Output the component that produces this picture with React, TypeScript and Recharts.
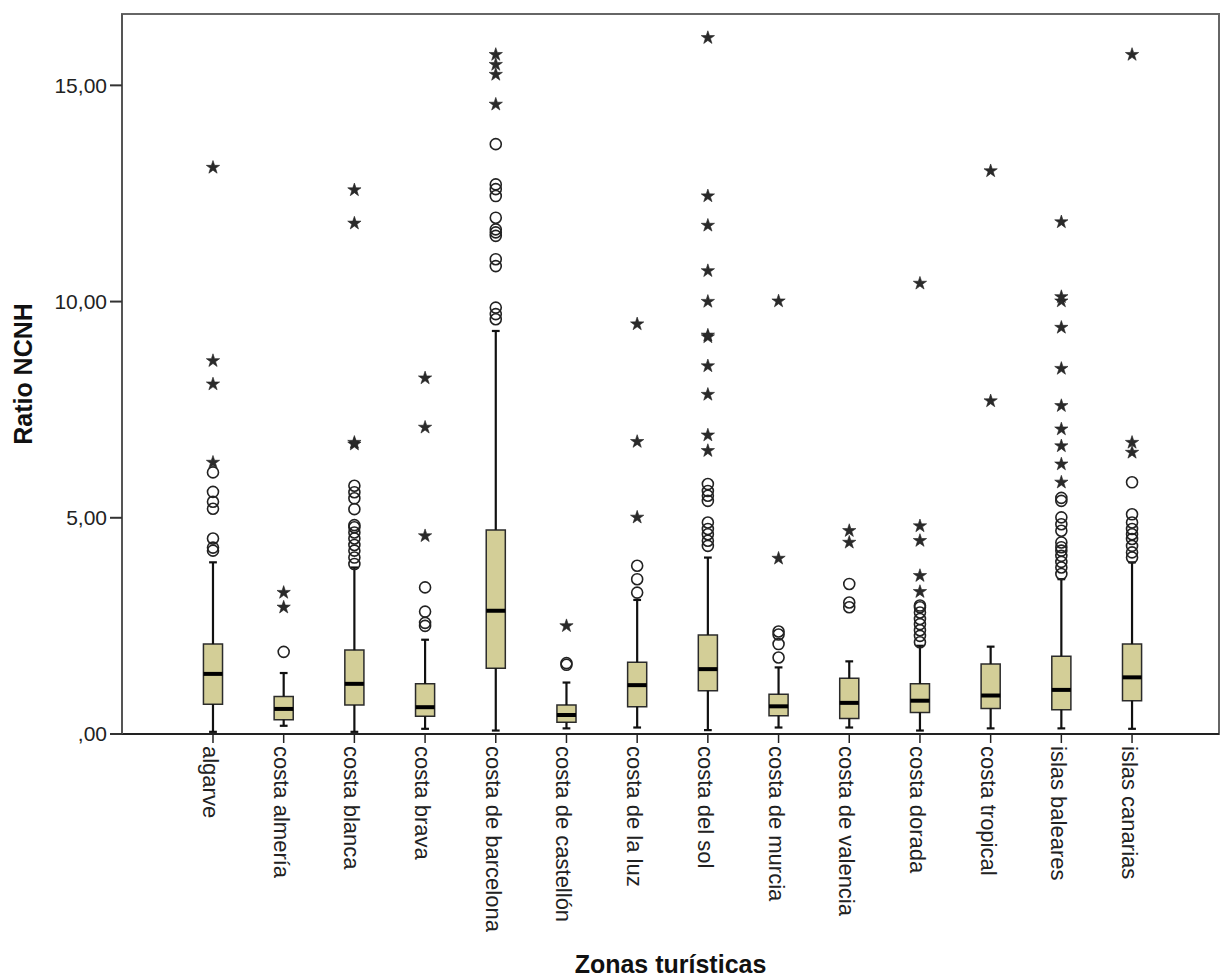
import React from 'react'
import {
  ScatterChart,
  Scatter,
  XAxis,
  YAxis,
  ReferenceArea,
  ReferenceLine,
  Label,
} from 'recharts'

const zones = [
  'algarve', 'costa almería', 'costa blanca', 'costa brava', 'costa de barcelona',
  'costa de castellón', 'costa de la luz', 'costa del sol', 'costa de murcia',
  'costa de valencia', 'costa dorada', 'costa tropical', 'islas baleares', 'islas canarias',
]

const whiskerLow = [0.05, 0.19, 0.05, 0.12, 0.08, 0.13, 0.15, 0.09, 0.15, 0.15, 0.08, 0.13, 0.13, 0.12]
const q1 = [0.69, 0.33, 0.67, 0.41, 1.52, 0.27, 0.63, 1.0, 0.42, 0.36, 0.5, 0.59, 0.56, 0.77]
const median = [1.39, 0.58, 1.16, 0.62, 2.85, 0.44, 1.13, 1.5, 0.64, 0.72, 0.77, 0.89, 1.02, 1.31]
const q3 = [2.08, 0.87, 1.94, 1.16, 4.72, 0.67, 1.66, 2.29, 0.92, 1.29, 1.16, 1.62, 1.8, 2.08]
const whiskerHigh = [3.97, 1.41, 3.85, 2.18, 9.32, 1.19, 3.1, 4.08, 1.54, 1.68, 2.04, 2.02, 3.58, 3.97]

const circleOutliers = [
  [4.24, 4.31, 4.52, 5.21, 5.37, 5.6, 6.05],
  [1.9],
  [3.93, 4.08, 4.24, 4.37, 4.52, 4.66, 4.78, 4.83, 5.2, 5.45, 5.59, 5.74],
  [2.5, 2.57, 2.83, 3.39],
  [9.59, 9.71, 9.86, 10.82, 10.98, 11.52, 11.6, 11.67, 11.94, 12.44, 12.6, 12.71, 13.64],
  [1.6, 1.64],
  [3.27, 3.58, 3.89],
  [4.35, 4.47, 4.62, 4.74, 4.89, 5.39, 5.51, 5.62, 5.78],
  [1.77, 2.08, 2.3, 2.37],
  [2.93, 3.04, 3.47],
  [2.12, 2.27, 2.4, 2.54, 2.66, 2.81, 2.93, 2.97],
  [],
  [3.7, 3.85, 3.98, 4.12, 4.24, 4.32, 4.43, 4.7, 4.85, 5.01, 5.39, 5.46],
  [4.08, 4.2, 4.35, 4.51, 4.62, 4.74, 4.89, 5.08, 5.82],
]

const starOutliers = [
  [6.28, 8.09, 8.63, 13.1],
  [2.93, 3.27],
  [6.7, 6.74, 11.81, 12.58],
  [4.58, 7.09, 8.23],
  [14.56, 15.25, 15.48, 15.71],
  [2.5],
  [5.01, 6.76, 9.48],
  [6.55, 6.91, 7.85, 8.51, 9.18, 9.22, 10.0, 10.71, 11.76, 12.44, 16.1],
  [4.06, 10.01],
  [4.43, 4.7],
  [3.29, 3.66, 4.47, 4.81, 10.42],
  [7.7, 13.02],
  [5.82, 6.24, 6.66, 7.05, 7.59, 8.45, 9.4, 10.01, 10.11, 11.84],
  [6.51, 6.74, 15.71],
]

const yTicks = [0, 5, 10, 15]

const circleData = circleOutliers.flatMap((vals, i) => vals.map((v) => ({ x: i, y: v })))
const starData = starOutliers.flatMap((vals, i) => vals.map((v) => ({ x: i, y: v })))

const X_DOMAIN: [number, number] = [-1.287, 14.23]
const Y_DOMAIN: [number, number] = [0, 16.65]
const BOX_HALF = 0.135
const CAP_HALF = 0.055
const FONT = "'Liberation Sans', Arial, sans-serif"

const fmtY = (v: number) => (v === 0 ? ',00' : v.toFixed(2).replace('.', ','))

function ZoneTick({ x, y, payload }: any) {
  const name = zones[payload.value] ?? ''
  return (
    <g transform={`translate(${x},${y})`}>
      <line x1={0} y1={0} x2={0} y2={9} stroke="#222" strokeWidth={1.5} />
      <text transform="rotate(90)" x={12} y={10} fontSize={22} fill="#222" fontFamily={FONT}>
        {name}
      </text>
    </g>
  )
}

function CircleMark({ cx, cy }: any) {
  return <circle cx={cx} cy={cy} r={5.5} fill="none" stroke="#222" strokeWidth={1.6} />
}

function StarMark({ cx, cy }: any) {
  const pts: string[] = []
  for (let k = 0; k < 10; k++) {
    const r = k % 2 === 0 ? 7 : 2.7
    const a = -Math.PI / 2 + (k * Math.PI) / 5
    pts.push(`${cx + r * Math.cos(a)},${cy + r * Math.sin(a)}`)
  }
  return <polygon points={pts.join(' ')} fill="#2a2a2a" stroke="#222" strokeWidth={0.6} />
}

export default function App() {
  return (
    <div style={{ position: 'absolute', left: 0, top: 0, background: '#fff' }}>
      <ScatterChart width={1222} height={977} margin={{ top: 14, right: 3, bottom: 0, left: 0 }}>
        <XAxis
          type="number"
          dataKey="x"
          domain={X_DOMAIN}
          allowDataOverflow
          ticks={zones.map((_, i) => i)}
          interval={0}
          tick={<ZoneTick />}
          tickLine={false}
          tickSize={0}
          tickMargin={0}
          height={243}
          axisLine={{ stroke: '#222', strokeWidth: 2 }}
        >
          <Label
            value="Zonas turísticas"
            position="insideBottom"
            offset={4}
            style={{ fontSize: 25, fontWeight: 'bold', fill: '#111', fontFamily: FONT }}
          />
        </XAxis>
        <YAxis
          type="number"
          dataKey="y"
          domain={Y_DOMAIN}
          allowDataOverflow
          ticks={yTicks}
          tickFormatter={fmtY}
          width={122}
          tickSize={12}
          tickMargin={3}
          tick={{ fontSize: 21, fill: '#222', fontFamily: FONT }}
          tickLine={{ stroke: '#333', strokeWidth: 2 }}
          axisLine={{ stroke: '#555', strokeWidth: 2 }}
        >
          <Label
            value="Ratio NCNH"
            angle={-90}
            position="insideLeft"
            offset={23}
            style={{ fontSize: 25, fontWeight: 'bold', fill: '#111', fontFamily: FONT, textAnchor: 'middle' }}
          />
        </YAxis>

        <ReferenceArea
          x1={X_DOMAIN[0]}
          x2={X_DOMAIN[1]}
          y1={Y_DOMAIN[0]}
          y2={Y_DOMAIN[1]}
          fill="none"
          stroke="#666"
          strokeWidth={2}
        />

        {zones.map((z, i) => (
          <ReferenceLine
            key={`wl-${z}`}
            segment={[{ x: i, y: whiskerLow[i] }, { x: i, y: q1[i] }]}
            stroke="#111"
            strokeWidth={2.2}
          />
        ))}
        {zones.map((z, i) => (
          <ReferenceLine
            key={`wh-${z}`}
            segment={[{ x: i, y: q3[i] }, { x: i, y: whiskerHigh[i] }]}
            stroke="#111"
            strokeWidth={2.2}
          />
        ))}
        {zones.map((z, i) => (
          <ReferenceLine
            key={`cl-${z}`}
            segment={[{ x: i - CAP_HALF, y: whiskerLow[i] }, { x: i + CAP_HALF, y: whiskerLow[i] }]}
            stroke="#111"
            strokeWidth={2.2}
          />
        ))}
        {zones.map((z, i) => (
          <ReferenceLine
            key={`ch-${z}`}
            segment={[{ x: i - CAP_HALF, y: whiskerHigh[i] }, { x: i + CAP_HALF, y: whiskerHigh[i] }]}
            stroke="#111"
            strokeWidth={2.2}
          />
        ))}
        {zones.map((z, i) => (
          <ReferenceArea
            key={`box-${z}`}
            x1={i - BOX_HALF}
            x2={i + BOX_HALF}
            y1={q1[i]}
            y2={q3[i]}
            fill="#D3CE97"
            fillOpacity={1}
            stroke="#2b2b2b"
            strokeWidth={1.5}
          />
        ))}
        {zones.map((z, i) => (
          <ReferenceLine
            key={`med-${z}`}
            segment={[{ x: i - BOX_HALF, y: median[i] }, { x: i + BOX_HALF, y: median[i] }]}
            stroke="#000"
            strokeWidth={4}
          />
        ))}

        <Scatter data={circleData} shape={<CircleMark />} isAnimationActive={false} />
        <Scatter data={starData} shape={<StarMark />} isAnimationActive={false} />
      </ScatterChart>
    </div>
  )
}
